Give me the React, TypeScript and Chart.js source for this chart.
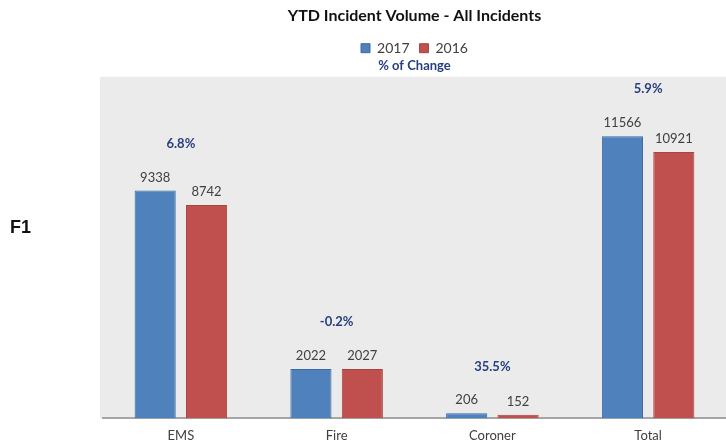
import React, { useEffect, useRef } from "react";
import { Chart, registerables } from "chart.js";

Chart.register(...registerables);

const categories = ["EMS", "Fire", "Coroner", "Total"];
const seriesLabels = ["2017", "2016"];
const values2017 = [9338, 2022, 206, 11566];
const values2016 = [8742, 2027, 152, 10921];
const pctChange = ["6.8%", "-0.2%", "35.5%", "5.9%"];
const yMax = 14000;

const FONT = "Lato, 'Open Sans', sans-serif";
const BLUE = "#4f81bd";
const RED = "#c0504d";
const NAVY = "#263f7e";
const TEXT = "#404040";

const plotBg = {
  id: "plotBg",
  beforeDraw(chart: any) {
    const { ctx, chartArea } = chart;
    ctx.save();
    ctx.fillStyle = "#ebebeb";
    ctx.fillRect(chartArea.left - 3, chartArea.top, chartArea.right - chartArea.left + 3, chartArea.bottom - chartArea.top);
    ctx.restore();
  },
};

const valueLabels = {
  id: "valueLabels",
  afterDatasetsDraw(chart: any) {
    const { ctx } = chart;
    ctx.save();
    ctx.font = `13px ${FONT}`;
    ctx.fillStyle = TEXT;
    ctx.textAlign = "center";
    ctx.textBaseline = "alphabetic";
    chart.data.datasets.forEach((ds: any, di: number) => {
      const meta = chart.getDatasetMeta(di);
      meta.data.forEach((bar: any, i: number) => {
        ctx.fillText(String(ds.data[i]), bar.x, bar.y - 9);
      });
    });
    const xScale = chart.scales.x;
    const yScale = chart.scales.y;
    ctx.font = `bold 13px ${FONT}`;
    ctx.fillStyle = NAVY;
    ctx.textBaseline = "middle";
    categories.forEach((_, i) => {
      const top = Math.max(values2017[i], values2016[i]);
      const x = xScale.getPixelForTick(i);
      const y = yScale.getPixelForValue(top) - 47;
      ctx.fillText(pctChange[i], x, y);
    });
    ctx.restore();
  },
};

export default function App() {
  const ref = useRef<HTMLCanvasElement>(null);

  useEffect(() => {
    document.body.style.margin = "0";
    const chart = new Chart(ref.current as HTMLCanvasElement, {
      type: "bar",
      data: {
        labels: categories,
        datasets: [
          {
            label: seriesLabels[0],
            data: values2017,
            backgroundColor: BLUE,
            borderColor: "#3a6aa3",
            borderWidth: 1,
            categoryPercentage: 0.66,
            barPercentage: 0.8,
          },
          {
            label: seriesLabels[1],
            data: values2016,
            backgroundColor: RED,
            borderColor: "#a84340",
            borderWidth: 1,
            categoryPercentage: 0.66,
            barPercentage: 0.8,
          },
        ],
      },
      options: {
        animation: false,
        responsive: false,
        maintainAspectRatio: false,
        layout: { padding: { left: 103, right: 0, top: 0, bottom: -6 } },
        plugins: {
          title: {
            display: true,
            text: "YTD Incident Volume - All Incidents",
            color: "#111111",
            font: { family: FONT, size: 16, weight: "bold" },
            padding: { top: 6, bottom: 6 },
          },
          legend: {
            display: true,
            labels: {
              color: TEXT,
              font: { family: FONT, size: 14 },
              boxWidth: 9,
              boxHeight: 9,
              padding: 10,
            },
          },
          subtitle: {
            display: true,
            text: "% of Change",
            color: NAVY,
            font: { family: FONT, size: 13, weight: "bold" },
            padding: { top: -7, bottom: 3 },
            weight: 500,
          } as any,
          tooltip: { enabled: false },
        },
        scales: {
          x: {
            grid: { display: false, drawTicks: false },
            border: { display: true, color: "#a6a6a6", width: 2 },
            ticks: { color: TEXT, font: { family: FONT, size: 13 }, padding: 10 },
          },
          y: {
            display: false,
            min: 0,
            max: yMax,
          },
        },
      },
      plugins: [plotBg, valueLabels],
    });
    return () => chart.destroy();
  }, []);

  return (
    <div style={{ position: "relative", width: 726, height: 448, background: "#ffffff" }}>
      <canvas ref={ref} width={726} height={448} style={{ display: "block" }} />
      <div
        style={{
          position: "absolute",
          left: 10,
          top: 217,
          fontFamily: "'Liberation Sans', Arial, sans-serif",
          fontWeight: "bold",
          fontSize: 18,
          color: "#111111",
        }}
      >
        F1
      </div>
    </div>
  );
}
